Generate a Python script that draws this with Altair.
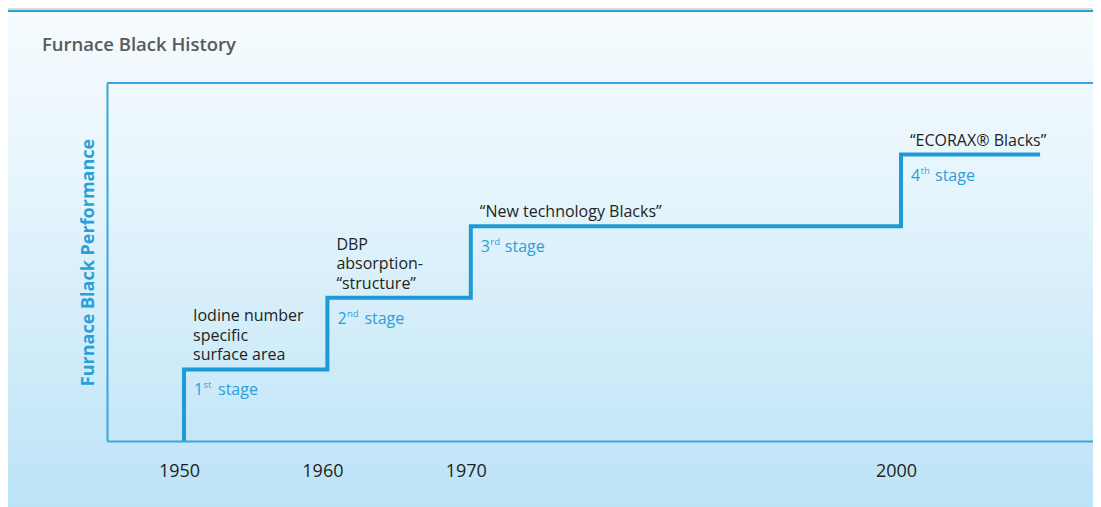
import altair as alt
import pandas as pd

# ---- data ----
step_years = [1950, 1960, 1970, 2000]
step_levels = [1, 2, 3, 4]
end_year = 2009.7
tick_years = [1950, 1960, 1970, 2000]

notes = [
    ["Iodine number", "specific", "surface area"],
    ["DBP", "absorption-", "\u201cstructure\u201d"],
    ["\u201cNew technology Blacks\u201d"],
    ["\u201cECORAX\u00ae Blacks\u201d"],
]
stage_nums = ["1", "2", "3", "4"]
stage_sups = ["st", "nd", "rd", "th"]

title_text = "Furnace Black History"
y_title = "Furnace Black Performance"

# ---- tables ----
line_x = [step_years[0]] + step_years + [end_year]
line_y = [0] + step_levels + [step_levels[-1]]
line_df = pd.DataFrame({"year": line_x, "level": line_y})

lab_df = pd.DataFrame({
    "year": step_years,
    "level": step_levels,
    "num": stage_nums,
    "sup": stage_sups,
    "word": ["stage"] * 4,
})

rows = []
for yr, lv, lines in zip(step_years, step_levels, notes):
    n = len(lines)
    for i, t in enumerate(lines):
        rows.append({"year": yr, "level": lv, "text": t, "k": n - 1 - i})
note_df = pd.DataFrame(rows)

one = pd.DataFrame({"a": [0]})

W, H = 986, 358
PL, PT, PB = 99, 75, 66
PX_PER_YEAR = 14.34
X0 = 1944.63

FONT = "Open Sans"
BLUE = "#1e9ad6"
TXTBLUE = "#2aa0da"
FRAME = "#3aa6dc"

xs = alt.Scale(domain=[X0, X0 + W / PX_PER_YEAR], nice=False, zero=False)
ys = alt.Scale(domain=[0, 5], nice=False, zero=True)

x_axis = alt.Axis(values=tick_years, format="d", title=None, grid=False, ticks=False,
                  tickSize=0, labelPadding=21, labelOffset=-5, labelFontSize=18,
                  labelColor="#231f20", labelFont=FONT, domainColor=FRAME,
                  domainWidth=2, zindex=1)
y_axis = alt.Axis(title=y_title, grid=False, ticks=False, tickSize=0, labels=False,
                  domainColor=FRAME, domainWidth=2, zindex=1,
                  titleFont=FONT, titleFontSize=18, titleFontWeight="bold",
                  titleColor=TXTBLUE, titleAngle=270, titleX=-19, titleY=179,
                  titleAlign="center", titleBaseline="middle")

grad = alt.Gradient(
    gradient="linear",
    stops=[alt.GradientStop(color="#f6fbfe", offset=0),
           alt.GradientStop(color="#e6f5fc", offset=0.35),
           alt.GradientStop(color="#bce3f7", offset=1)],
    x1=0, x2=0, y1=0, y2=1,
)

bg = alt.Chart(one).mark_rect(fill=grad, stroke=None).encode(
    x=alt.value(-PL), x2=alt.value(W), y=alt.value(-PT + 4), y2=alt.value(H + PB)
)
gray_top = alt.Chart(one).mark_rect(fill="#dddbd9").encode(
    x=alt.value(-PL), x2=alt.value(W), y=alt.value(-PT), y2=alt.value(-PT + 2)
)
blue_top = alt.Chart(one).mark_rect(fill="#2b9fd9").encode(
    x=alt.value(-PL), x2=alt.value(W), y=alt.value(-PT + 2), y2=alt.value(-PT + 4)
)
top_frame = alt.Chart(one).mark_rule(color=FRAME, strokeWidth=2).encode(
    x=alt.value(0), x2=alt.value(W), y=alt.value(0)
)
title = alt.Chart(one).mark_text(text=title_text, font=FONT, fontSize=18.5,
                                 fontWeight=600, color="#58595b", align="left",
                                 baseline="alphabetic").encode(
    x=alt.value(-65), y=alt.value(-32)
)

step = alt.Chart(line_df).mark_line(interpolate="step-after", color=BLUE, strokeWidth=4,
                                    strokeCap="butt", strokeJoin="miter").encode(
    x=alt.X("year:Q", scale=xs, axis=x_axis),
    y=alt.Y("level:Q", scale=ys, axis=y_axis),
)

note_layers = []
for k in range(3):
    note_layers.append(
        alt.Chart(note_df).transform_filter(alt.datum.k == k).mark_text(
            align="left", baseline="alphabetic", dx=9, dy=-9 - 19.5 * k, font=FONT,
            fontSize=16, color="#231f20"
        ).encode(
            x=alt.X("year:Q", scale=xs),
            y=alt.Y("level:Q", scale=ys),
            text="text:N",
        )
    )

base = alt.Chart(lab_df).encode(
    x=alt.X("year:Q", scale=xs),
    y=alt.Y("level:Q", scale=ys),
)
num_t = base.mark_text(align="left", baseline="middle", dx=10, dy=21, font=FONT,
                       fontSize=16, color=TXTBLUE).encode(text="num:N")
sup_t = base.mark_text(align="left", baseline="middle", dx=19.5, dy=16, font=FONT,
                       fontSize=9.5, color=TXTBLUE).encode(text="sup:N")
word_t = base.transform_filter(alt.datum.sup != "nd").mark_text(
    align="left", baseline="middle", dx=34, dy=21, font=FONT,
    fontSize=16, color=TXTBLUE).encode(text="word:N")
word_t2 = base.transform_filter(alt.datum.sup == "nd").mark_text(
    align="left", baseline="middle", dx=37, dy=21, font=FONT,
    fontSize=16, color=TXTBLUE).encode(text="word:N")

chart = alt.layer(bg, gray_top, blue_top, top_frame, title, step,
                  *note_layers, num_t, sup_t, word_t, word_t2).properties(
    width=W, height=H,
    autosize=alt.AutoSizeParams(type="none"),
    padding={"left": PL, "top": PT, "right": 0, "bottom": PB},
).configure_view(stroke=None)

chart.save("out.html", embed_options={"renderer": "svg", "actions": False})
